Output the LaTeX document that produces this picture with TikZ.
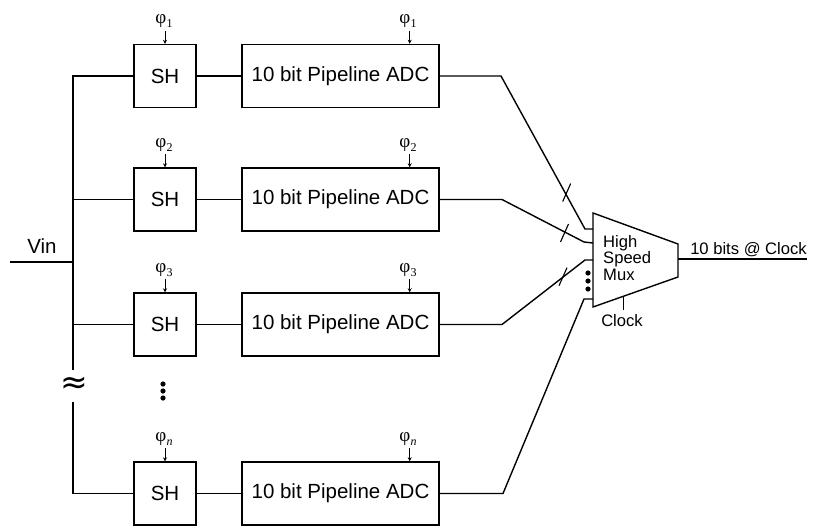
\documentclass[tikz,border=0pt]{standalone}
\usepackage{fontspec}
\setmainfont{Liberation Sans}
\newfontfamily\grk{Liberation Serif}
\newfontfamily\symf{DejaVu Sans}
\usetikzlibrary{arrows.meta}
\newcommand{\phisub}[1]{{\grk\fontsize{19}{20}\selectfont φ\kern0.3pt\raisebox{-3.5pt}{\fontsize{12}{13}\selectfont #1}}}
\begin{document}
\begin{tikzpicture}[x=1pt,y=-1pt,
  wire/.style={line width=1.4pt},
  blk/.style={draw, line width=1.4pt, minimum height=63pt, inner sep=0pt, font=\fontsize{20.5}{24}\selectfont},
  shbox/.style={blk, minimum width=62pt},
  adcbox/.style={blk, minimum width=197pt},
  phil/.style={anchor=base, inner sep=0pt},
  clk/.style={line width=1pt, -{Stealth[length=4pt,width=4pt]}},
  lbl/.style={inner sep=0pt, font=\fontsize{16.6}{16.5}\selectfont},
  bigl/.style={inner sep=0pt, font=\fontsize{20.5}{24}\selectfont}]
\useasboundingbox (0,0) rectangle (813,527);
\coordinate (busx) at (73,0);
% rows
\foreach \i/\y/\s in {1/76/1,2/199.5/2,3/324.5/3,n/493.5/\textit{n}}{
  \node[shbox] (sh\i) at (165,\y) {SH};
  \node[adcbox] (adc\i) at (340.5,\y) {10 bit Pipeline ADC};
  \draw[wire] (sh\i) -- (adc\i);
  \node[phil] (ps\i) at (164,\y-52) {\phisub{\s}};
  \node[phil] (pa\i) at (408,\y-52) {\phisub{\s}};
  \draw[clk] ([yshift=13pt]sh\i.north) -- (sh\i.north);
  \draw[clk] ([xshift=-30pt,yshift=13pt]adc\i.north east) -- ([xshift=-30pt]adc\i.north east);
}
% input bus
\coordinate (vinend) at (10,262);
\node[bigl] (vin) at (42,246) {Vin};
\draw[wire] (vinend) -- (vinend -| busx);
\coordinate (gaptop) at (73,370);
\coordinate (gapbot) at (73,402);
\draw[wire] (sh1.west) -- (sh1.west -| busx) -- (gaptop);
\draw[wire] (gapbot) -- (shn.west -| busx) -- (shn.west);
\draw[wire] (sh2.west) -- (sh2.west -| busx);
\draw[wire] (sh3.west) -- (sh3.west -| busx);
\node[inner sep=0pt, font=\symf\fontsize{33}{34}\selectfont] (apx) at (74,385) {≈};
% vertical dots
\foreach \yy in {384,391,398} \fill (163,\yy) circle (2.6);
% mux
\coordinate (mtl) at (593,213);
\coordinate (mtr) at (678,244);
\coordinate (mbr) at (678,277);
\coordinate (mbl) at (593,307);
\draw[wire, line join=miter] (mtl) -- (mtr) -- (mbr) -- (mbl) -- cycle;
\node[lbl, anchor=west, align=left] (muxt) at (603,258) {High\\Speed\\Mux};
\coordinate (m1) at (593,229);
\coordinate (m2) at (593,243);
\coordinate (m3) at (593,260);
\coordinate (m4) at (593,299);
\draw[wire] (adc1.east) -- (501,76) -- (585,229) -- (m1);
\draw[wire] (adc2.east) -- (502,199.5) -- (584,242) -- (m2);
\draw[wire] (adc3.east) -- (502,324.5) -- (585,260) -- (m3);
\draw[wire] (adcn.east) -- (503,493.5) -- (584,299) -- (m4);
\foreach \yy in {273,281,289} \fill (588,\yy) circle (2.6);
% bus slashes
\coordinate (s1) at (566.7,192.5);
\coordinate (s2) at (564.5,233);
\coordinate (s3) at (563,276.7);
\foreach \s in {s1,s2,s3}
  \draw[line width=1.1pt] ([shift={(-4,9)}]\s) -- ([shift={(4,-9)}]\s);
% output
\coordinate (mout) at (678,259);
\coordinate (outend) at (807,259);
\draw[wire] (mout) -- (outend);
\node[lbl] (outl) at (748.5,250) {10 bits @ Clock};
% clock
\coordinate (ck) at (623,296.4);
\draw[line width=1pt] (ck) -- ++(0,14);
\node[lbl] (ckl) at (622,321) {Clock};
\end{tikzpicture}
\end{document}
